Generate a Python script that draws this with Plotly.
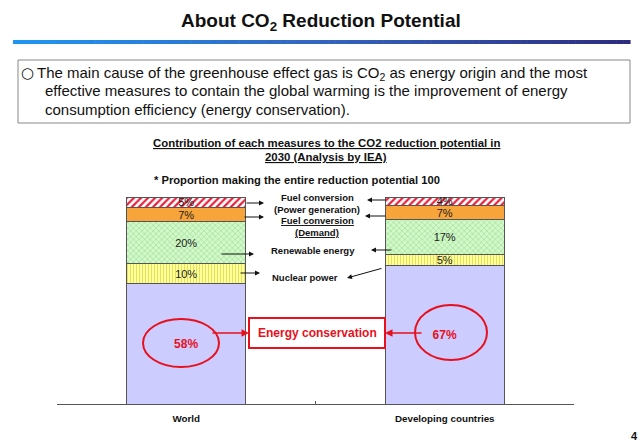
import plotly.graph_objects as go

# ---------------- data ----------------
categories = ["World", "Developing countries"]
conservation = [58, 67]
nuclear = [10, 5]
renewable = [20, 17]
fuel_demand = [7, 7]
fuel_power = [5, 4]

W, H = 640, 443
L, R, T, B = 57, 66, 197, 39
PW, PH = W - L - R, H - T - B


def px(x):
    return (x - L) / PW


def py(y):
    return (H - B - y) / PH


FONT = "Liberation Sans, Arial, sans-serif"

fig = go.Figure()


def pct(vals):
    return [f"{v}%" for v in vals]


bar_w = 0.46
line = dict(color="#555555", width=1)

fig.add_bar(x=categories, y=conservation, width=bar_w, text=pct(conservation),
            marker=dict(color="#CCCCFF", line=line),
            textfont=dict(color="#E8101C", size=12, family=FONT, weight="bold"))
fig.add_bar(x=categories, y=nuclear, width=bar_w, text=pct(nuclear),
            marker=dict(color="#FFFF99", line=line,
                        pattern=dict(shape="|", bgcolor="#FFFF99", fgcolor="#E6E060",
                                     size=3, solidity=0.35, fillmode="replace")),
            textfont=dict(color="#222222", size=11, family=FONT))
fig.add_bar(x=categories, y=renewable, width=bar_w, text=pct(renewable),
            marker=dict(color="#D4F7CC", line=line,
                        pattern=dict(shape="x", bgcolor="#D4F7CC", fgcolor="#98E290",
                                     size=4, solidity=0.3, fillmode="replace")),
            textfont=dict(color="#222222", size=11, family=FONT))
fig.add_bar(x=categories, y=fuel_demand, width=bar_w, text=pct(fuel_demand),
            marker=dict(color="#F7A43A", line=line),
            textfont=dict(color="#222222", size=11, family=FONT))
fig.add_bar(x=categories, y=fuel_power, width=bar_w, text=pct(fuel_power),
            marker=dict(color="#FFFFFF", line=line,
                        pattern=dict(shape="/", bgcolor="#FFFFFF", fgcolor="#E8203A",
                                     size=5, solidity=0.45, fillmode="replace")),
            textfont=dict(color="#222222", size=11, family=FONT))

fig.update_traces(textposition="inside", insidetextanchor="middle",
                  constraintext="none", textangle=0, cliponaxis=False,
                  hoverinfo="skip")

shapes = []
# gradient rule under the title
stops = [(0.0, (30, 150, 240)), (0.5, (52, 100, 190)), (1.0, (45, 45, 130))]


def interp(t):
    for (t0, c0), (t1, c1) in zip(stops[:-1], stops[1:]):
        if t0 <= t <= t1:
            f = (t - t0) / (t1 - t0)
            return "rgb(%d,%d,%d)" % tuple(round(a + (b - a) * f) for a, b in zip(c0, c1))
    return "rgb(%d,%d,%d)" % stops[-1][1]


x0, x1, n = 13, 630, 90
for i in range(n):
    a = x0 + (x1 - x0) * i / n
    b = x0 + (x1 - x0) * (i + 1) / n + 0.6
    shapes.append(dict(type="rect", xref="paper", yref="paper",
                       x0=px(a), x1=px(b), y0=py(44), y1=py(40),
                       line=dict(width=0), fillcolor=interp(i / (n - 1))))

# text box
shapes.append(dict(type="rect", xref="paper", yref="paper",
                   x0=px(18), x1=px(630), y0=py(123), y1=py(60),
                   line=dict(color="#888888", width=1), fillcolor="rgba(0,0,0,0)"))
# energy conservation box
shapes.append(dict(type="rect", xref="paper", yref="paper",
                   x0=px(249), x1=px(385), y0=py(348), y1=py(318),
                   line=dict(color="#E8101C", width=2), fillcolor="white"))
# ellipses
shapes.append(dict(type="circle", xref="paper", yref="paper",
                   x0=px(143), x1=px(219), y0=py(367), y1=py(319),
                   line=dict(color="#E8101C", width=2)))
shapes.append(dict(type="circle", xref="paper", yref="paper",
                   x0=px(415), x1=px(487), y0=py(360), y1=py(305),
                   line=dict(color="#E8101C", width=2)))

ann = []


def text(x, y, s, size, bold=False, color="#111111", xanchor="center", family=FONT):
    ann.append(dict(x=px(x), y=py(y), xref="paper", yref="paper", text=s,
                    showarrow=False, xanchor=xanchor, yanchor="middle",
                    font=dict(family=family, size=size, color=color,
                              weight="bold" if bold else "normal")))


def arrow(xh, yh, xt, yt, color="#111111", width=1):
    ann.append(dict(x=px(xh), y=py(yh), xref="paper", yref="paper",
                    ax=xt - xh, ay=yt - yh, axref="pixel", ayref="pixel",
                    text="", showarrow=True, arrowhead=2, arrowsize=1,
                    arrowwidth=width, arrowcolor=color))


text(321, 22, "About CO<sub>2</sub> Reduction Potential", 19, bold=True)
text(27, 73, "○", 15, xanchor="center", family="DejaVu Sans")
text(35, 73, "The main cause of the greenhouse effect gas is CO<sub>2</sub> as energy origin and the most", 15, xanchor="left")
text(43, 91, "effective measures to contain the global warming is the improvement of energy", 15, xanchor="left")
text(43, 109, "consumption efficiency (energy conservation).", 15, xanchor="left")

text(326, 143, "<u>Contribution of each measures to the CO2 reduction potential in</u>", 11.4, bold=True)
text(326, 157, "<u>2030 (Analysis by IEA)</u>", 11.4, bold=True)
text(297, 180, "* Proportion making the entire reduction potential 100", 11.2, bold=True)

text(317, 197, "Fuel conversion", 9.5, bold=True)
text(317, 209, "(Power generation)", 9.5, bold=True)
text(317, 220, "<u>Fuel conversion</u>", 9.5, bold=True)
text(317, 232, "<u>(Demand)</u>", 9.5, bold=True)
text(313, 250, "Renewable energy", 9.5, bold=True)
text(305, 277, "Nuclear power", 9.5, bold=True)

text(317, 333, "Energy conservation", 12, bold=True, color="#E8101C")
text(634, 436, "4", 11, bold=True)

# black arrows
arrow(264, 203, 245, 203)
arrow(264, 217, 243, 217)
arrow(254, 254, 220, 254)
arrow(260, 273, 239, 273)
arrow(367, 200, 387, 200)
arrow(365, 216, 387, 216)
arrow(371, 250, 393, 250)
arrow(347, 278, 383, 268)
# red arrows
arrow(249, 333, 211, 333, color="#E8101C", width=1.5)
arrow(385, 333, 423, 333, color="#E8101C", width=1.5)

fig.update_layout(
    width=W, height=H, barmode="stack", showlegend=False,
    margin=dict(l=L, r=R, t=T, b=B), plot_bgcolor="white", paper_bgcolor="white",
    shapes=shapes, annotations=ann,
    xaxis=dict(showline=True, linecolor="#555555", linewidth=1, ticks="inside",
               tickson="boundaries", ticklen=3, tickcolor="#555555",
               ticklabelstandoff=5,
               tickfont=dict(family=FONT, size=9.8, color="#111111", weight="bold"),
               showgrid=False, zeroline=False, fixedrange=True),
    yaxis=dict(visible=False, range=[0, 100], fixedrange=True),
)

fig.write_html("out.html", config={"displayModeBar": False},
               post_script="document.body.style.margin='0';document.body.style.overflow='hidden';")
